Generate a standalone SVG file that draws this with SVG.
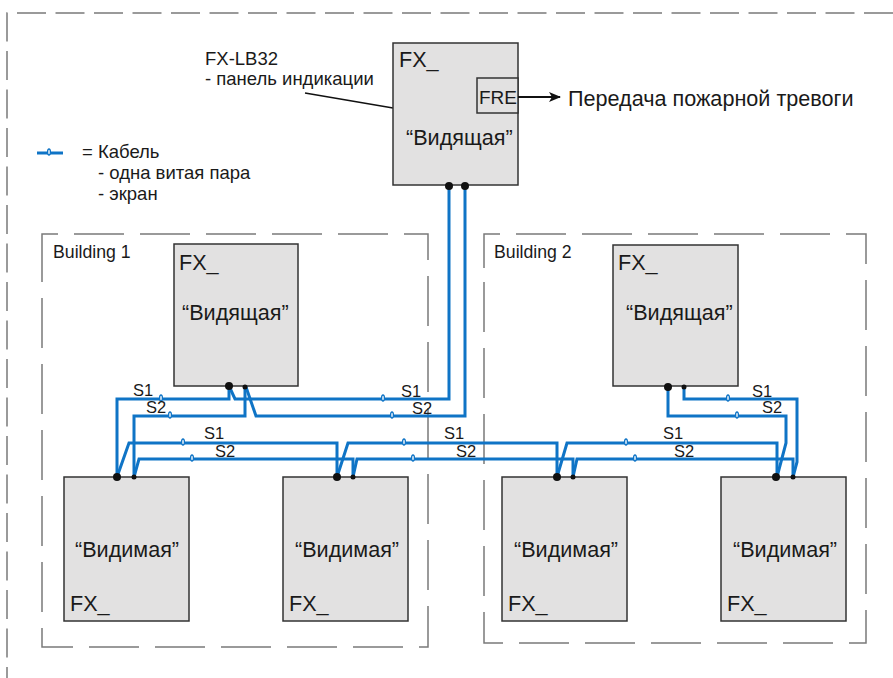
<svg xmlns="http://www.w3.org/2000/svg" width="893" height="678" viewBox="0 0 893 678">
<defs>
<style>
.frame{fill:none;stroke:#7a7a7a;stroke-width:1.5}
.outer{stroke-dasharray:29 9.5}
.bld{stroke-dasharray:50 16}
.box{fill:#e2e1e1;stroke:#333;stroke-width:1.5}
.t{font-family:"Liberation Sans",Arial,sans-serif;fill:#1a1a1a}
.big{font-size:21.6px}
.mid{font-size:18.5px}
.s{font-size:16.5px}
.w{fill:none;stroke:#0f74c6;stroke-width:3;stroke-linejoin:miter}
.mk{fill:#fff;stroke:#0f74c6;stroke-width:1.3}
.dot{fill:#111}
</style>
<marker id="ah" viewBox="0 0 12 10" refX="11" refY="5" markerWidth="12" markerHeight="10" markerUnits="userSpaceOnUse" orient="auto">
<path d="M0,0 L12,5 L0,10 L3,5 Z" fill="#111"/>
</marker>
</defs>

<g id="frames">
<path class="frame outer" d="M893,13 H7 V678"/>
<path class="frame bld" d="M42,268 V234 H428 V647 H42 Z"/>
<path class="frame bld" d="M484,268 V234 H866 V643 H484 Z"/>
<text class="t" x="53" y="258" font-size="17.7">Building 1</text>
<text class="t" x="494" y="258" font-size="17.7">Building 2</text>
</g>

<g id="legend">
<line x1="37" y1="153" x2="63" y2="153" class="w"/>
<ellipse cx="49" cy="152" rx="1.4" ry="3" class="mk"/>
<text class="t mid" x="82" y="158">= Кабель</text>
<text class="t mid" x="98" y="179">- одна витая пара</text>
<text class="t mid" x="98" y="200">- экран</text>
</g>

<g id="label-lb32">
<text class="t mid" x="205" y="65">FX-LB32</text>
<text class="t mid" x="205" y="85">- панель индикации</text>
<line x1="305" y1="93" x2="393" y2="108" stroke="#111" stroke-width="1.5"/>
</g>

<g id="node-top">
<rect class="box" x="393" y="43" width="125" height="142"/>
<text class="t big" x="399" y="67">FX_</text>
<rect class="box" x="477" y="78" width="41" height="35"/>
<text class="t" x="479" y="104" font-size="19">FRE</text>
<text class="t big" x="406" y="145">“Видящая”</text>
</g>

<g id="alarm">
<line x1="518" y1="97" x2="560" y2="97" stroke="#111" stroke-width="1.8" marker-end="url(#ah)"/>
<text class="t big" x="568" y="106">Передача пожарной тревоги</text>
</g>

<g id="node-b1-master">
<rect class="box" x="174" y="244" width="124" height="142"/>
<text class="t big" x="179" y="270">FX_</text>
<text class="t big" x="182" y="320">“Видящая”</text>
</g>

<g id="node-b2-master">
<rect class="box" x="613" y="245" width="125" height="141"/>
<text class="t big" x="618" y="270">FX_</text>
<text class="t big" x="626" y="320">“Видящая”</text>
</g>

<g id="node-b1-a">
<rect class="box" x="64" y="477" width="125" height="144"/>
<text class="t big" x="75" y="557">“Видимая”</text>
<text class="t big" x="70" y="611">FX_</text>
</g>
<g id="node-b1-b">
<rect class="box" x="283" y="477" width="125" height="144"/>
<text class="t big" x="295" y="557">“Видимая”</text>
<text class="t big" x="289" y="611">FX_</text>
</g>
<g id="node-b2-a">
<rect class="box" x="502" y="477" width="125" height="144"/>
<text class="t big" x="514" y="557">“Видимая”</text>
<text class="t big" x="508" y="611">FX_</text>
</g>
<g id="node-b2-b">
<rect class="box" x="721" y="477" width="125" height="144"/>
<text class="t big" x="733" y="557">“Видимая”</text>
<text class="t big" x="727" y="611">FX_</text>
</g>

<g id="connectors">
<path class="w" d="M449,186 V399 H235 L229,386"/>
<path class="w" d="M229,386 V399 H117 V477"/>
<path class="w" d="M465,186 V416 H256 L246,387"/>
<path class="w" d="M245,387 V416 H134 V477"/>
<path class="w" d="M117,477 L129,443 H337 V477"/>
<path class="w" d="M134,477 L139,459 H353 V477"/>
<path class="w" d="M337,477 L348,443 H557 V477"/>
<path class="w" d="M353,477 L357,459 H573 V477"/>
<path class="w" d="M557,477 L567,443 H777 V477"/>
<path class="w" d="M573,477 L577,459 H793 V477"/>
<path class="w" d="M668,387 V416 H786 V443 L777,477"/>
<path class="w" d="M684,387 V399 H797 V462 L793,477"/>

<ellipse cx="161" cy="398" rx="1.4" ry="3" class="mk"/>
<ellipse cx="170" cy="415" rx="1.4" ry="3" class="mk"/>
<ellipse cx="183" cy="442" rx="1.4" ry="3" class="mk"/>
<ellipse cx="192" cy="458" rx="1.4" ry="3" class="mk"/>
<ellipse cx="383" cy="398" rx="1.4" ry="3" class="mk"/>
<ellipse cx="392" cy="415" rx="1.4" ry="3" class="mk"/>
<ellipse cx="404" cy="442" rx="1.4" ry="3" class="mk"/>
<ellipse cx="413" cy="458" rx="1.4" ry="3" class="mk"/>
<ellipse cx="626" cy="442" rx="1.4" ry="3" class="mk"/>
<ellipse cx="635" cy="458" rx="1.4" ry="3" class="mk"/>
<ellipse cx="728" cy="398" rx="1.4" ry="3" class="mk"/>
<ellipse cx="737" cy="415" rx="1.4" ry="3" class="mk"/>

<circle class="dot" cx="449" cy="186" r="4"/>
<circle class="dot" cx="465" cy="186" r="4"/>
<circle class="dot" cx="229" cy="386" r="4"/>
<circle class="dot" cx="117" cy="477" r="4"/>
<circle class="dot" cx="337" cy="477" r="4"/>
<circle class="dot" cx="557" cy="477" r="4"/>
<circle class="dot" cx="668" cy="387" r="4"/>
<circle class="dot" cx="776" cy="477" r="4"/>
<circle class="dot" cx="245" cy="387" r="2.5"/>
<circle class="dot" cx="134" cy="477" r="2.5"/>
<circle class="dot" cx="353" cy="477" r="2.5"/>
<circle class="dot" cx="573" cy="477" r="2.5"/>
<circle class="dot" cx="684" cy="387" r="2.5"/>
<circle class="dot" cx="793" cy="477" r="2.5"/>

<text class="t s" x="133" y="396">S1</text>
<text class="t s" x="146" y="413">S2</text>
<text class="t s" x="401" y="397">S1</text>
<text class="t s" x="412" y="414">S2</text>
<text class="t s" x="204" y="439">S1</text>
<text class="t s" x="215" y="457">S2</text>
<text class="t s" x="444" y="439">S1</text>
<text class="t s" x="456" y="457">S2</text>
<text class="t s" x="663" y="439">S1</text>
<text class="t s" x="674" y="457">S2</text>
<text class="t s" x="752" y="397">S1</text>
<text class="t s" x="762" y="413">S2</text>
</g>
</svg>
